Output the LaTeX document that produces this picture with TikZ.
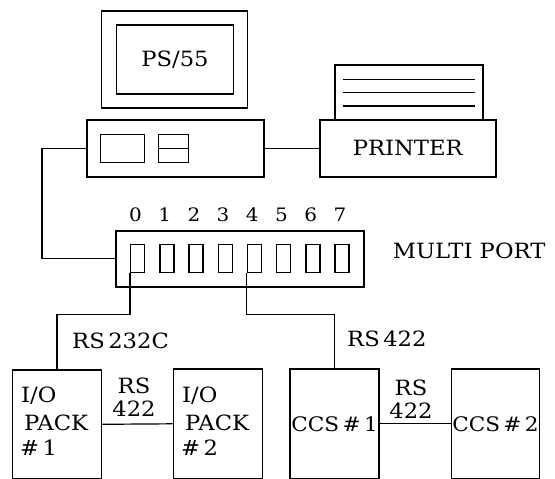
\documentclass[tikz,border=0pt]{standalone}
\usepackage{fontspec}
\setmainfont{DejaVu Serif}[FakeStretch=1.08]
\begin{document}
\begin{tikzpicture}[x=1pt,y=-1pt,
  box/.style={draw,line width=1.6pt,inner sep=0pt,anchor=north west},
  wire/.style={line width=1.2pt},
  lbl/.style={inner sep=0pt,font=\fontsize{21}{24}\selectfont},
  ccslbl/.style={inner sep=0pt,font=\fontsize{20}{24}\selectfont},
  dig/.style={inner sep=0pt,font=\fontsize{18.5}{22}\selectfont},
  stack/.style={inner sep=0pt,align=center,font=\fontsize{21}{23.5}\selectfont}]
\useasboundingbox (0,0) rectangle (555,479);
% computer
\node[box,minimum width=146pt,minimum height=97pt] (mon) at (100.7,10) {};
\node[box,minimum width=117pt,minimum height=69pt] (scr) at (115.7,24) {};
\node[lbl] (ps) at (scr.center) {PS/55};
\node[box,minimum width=177pt,minimum height=57pt] (base) at (86,119) {};
\node[box,line width=1.3pt,minimum width=44pt,minimum height=28pt] (drv1) at (100,134) {};
\node[box,line width=1.3pt,minimum width=30pt,minimum height=28pt] (drv2) at (158,134) {};
\draw[line width=1.3pt] (drv2.west) -- (drv2.east);
% printer
\node[box,minimum width=148pt,minimum height=55pt] (paper) at (334,64.3) {};
\foreach \yy in {79.3,92.7,106} \draw[line width=1.3pt] (343,\yy) -- (475,\yy);
\node[box,fill=white,minimum width=176pt,minimum height=57pt] (prn) at (319,119) {};
\node[lbl] (prnt) at (prn.center) {PRINTER};
% multiport
\node[box,minimum width=248pt,minimum height=56pt] (mp) at (115,230) {};
\foreach \i in {0,...,7}{
  \node[box,line width=1.3pt,minimum width=14pt,minimum height=28pt] (p\i) at ({130+29.2*\i},244) {};
  \node[dig] (d\i) at ({135.5+29.2*\i},215) {\i};
}
\node[lbl,anchor=west] (mpt) at (392.7,251) {MULTI PORT};
% terminals
\node[box,minimum width=89pt,minimum height=109pt] (io1) at (11.7,369) {};
\node[box,minimum width=89pt,minimum height=110pt] (io2) at (172.7,368) {};
\node[box,minimum width=89pt,minimum height=110pt] (ccs1) at (289.3,368) {};
\node[box,minimum width=88pt,minimum height=110pt] (ccs2) at (450.7,368) {};
\node[lbl,anchor=west] (io1a) at (21,396) {I/O};
\node[lbl,anchor=west] (io1b) at (24,422.5) {PACK};
\node[lbl,anchor=west] (io1c) at (20,448) {\#\,1};
\node[lbl,anchor=west] (io2a) at (182,396) {I/O};
\node[lbl,anchor=west] (io2b) at (185,422.5) {PACK};
\node[lbl,anchor=west] (io2c) at (181,448) {\#\,2};
\node[ccslbl] (c1t) at (ccs1.center) {CCS\,\#\,1};
\node[ccslbl] (c2t) at (ccs2.center) {CCS\,\#\,2};
% connectors
\draw[wire] (base.west) -- ++(-44,0) |- (mp.west);
\draw[wire] (base.east) -- (prn.west);
\draw[wire] (p0.south west) -- ++(0,41) -| (io1.north);
\draw[wire] (p4.south west) -- ++(0,41) -| (ccs1.north);
\draw[wire] (io1.east) -- (io2.west);
\draw[wire] (ccs1.east) -- (ccs2.west);
% labels
\node[lbl,anchor=west] (l232) at (72,341) {RS\,232C};
\node[lbl,anchor=west] (l422a) at (347,339) {RS\,422};
\node[stack] (l422b) at (134,397) {RS\\422};
\node[stack] (l422c) at (411,399) {RS\\422};
\end{tikzpicture}
\end{document}
